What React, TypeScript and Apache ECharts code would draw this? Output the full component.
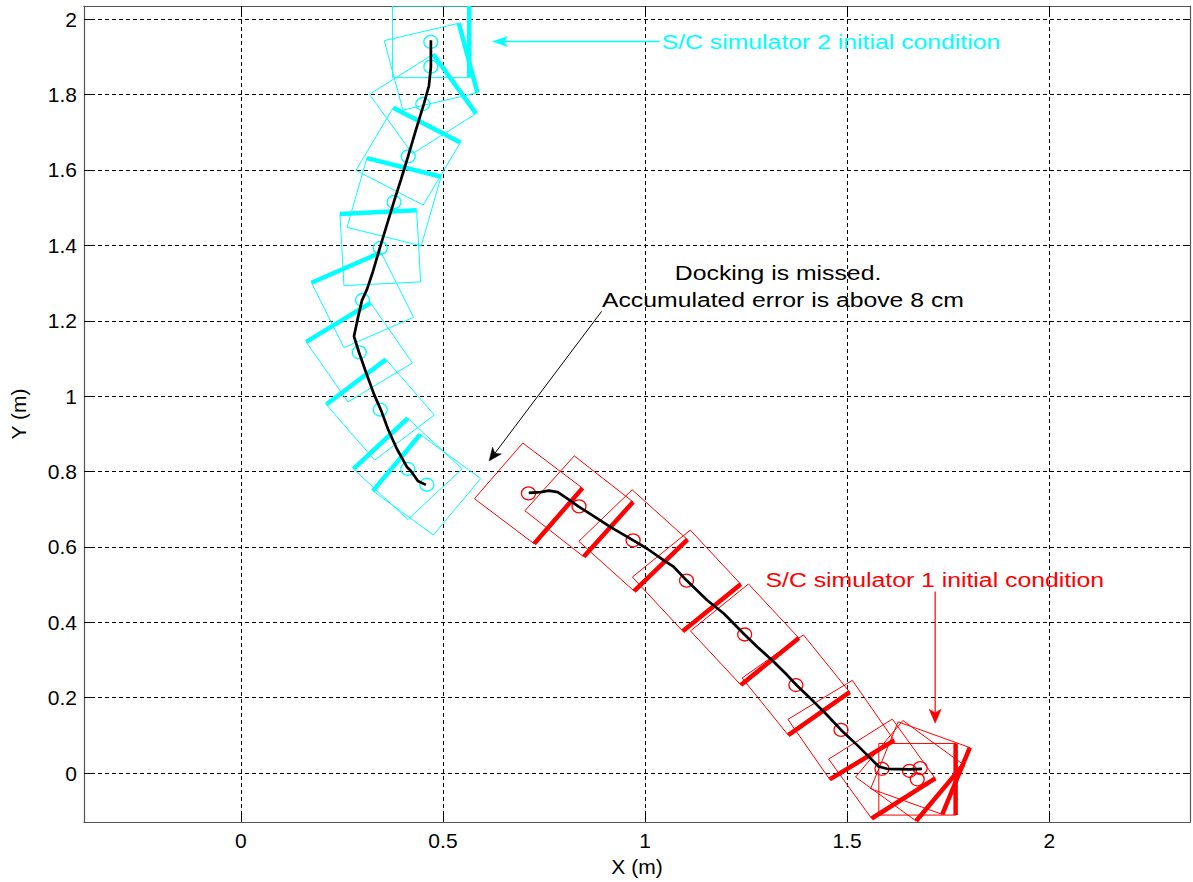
import React, { useEffect, useRef } from "react";
import * as echarts from "echarts";

// Axis ranges and tick labels
const xRange = [-0.388, 2.348];
const yRange = [-0.13, 2.035];
const xTicks = [0, 0.5, 1, 1.5, 2];
const yTicks = [0, 0.2, 0.4, 0.6, 0.8, 1, 1.2, 1.4, 1.6, 1.8, 2];

// Simulator poses: [x (m), y (m), heading of docking face (deg)]
const sim2Poses = [
  [0.470, 1.940, 0],
  [0.470, 1.874, 14],
  [0.450, 1.775, 34],
  [0.414, 1.636, 61],
  [0.379, 1.515, 75],
  [0.345, 1.393, 93],
  [0.301, 1.255, 115],
  [0.293, 1.116, 123],
  [0.345, 0.964, 129],
  [0.413, 0.807, 135],
  [0.460, 0.765, 142],
];

const sim1Poses = [
  [0.7115, 0.742, -39],
  [0.8365, 0.7077, -40],
  [0.9704, 0.6172, -44],
  [1.1025, 0.5106, -49],
  [1.2463, 0.3677, -49],
  [1.373, 0.2336, -53],
  [1.4847, 0.1146, -57],
  [1.586, 0.0114, -56],
  [1.6541, 0.0061, -38],
  [1.6806, 0.0132, -21],
  [1.6732, -0.0164, 0],
];

// Trajectories (x, y)
const sim2Path = [
  [0.4701, 1.9444], [0.4701, 1.873], [0.4652, 1.8228], [0.4528, 1.7751],
  [0.4331, 1.7063], [0.4133, 1.6349], [0.396, 1.5741], [0.3787, 1.5159],
  [0.3614, 1.455], [0.3441, 1.3942], [0.3268, 1.3307], [0.312, 1.2831],
  [0.2996, 1.254], [0.2898, 1.209], [0.2799, 1.1587], [0.2922, 1.1164],
  [0.3095, 1.0635], [0.3293, 1.0053], [0.3466, 0.963], [0.3639, 0.9127],
  [0.3861, 0.8598], [0.4108, 0.8122], [0.4207, 0.8016], [0.438, 0.7751],
  [0.4578, 0.7646],
];

const sim1Path = [
  [0.7122, 0.7434], [0.7418, 0.7452], [0.7616, 0.7495], [0.7839, 0.7452],
  [0.8086, 0.7275], [0.8357, 0.7071], [0.8728, 0.6817], [0.9148, 0.6526],
  [0.9709, 0.6172], [1.0054, 0.5952], [1.0464, 0.5643], [1.0711, 0.5468],
  [1.1025, 0.5114], [1.1537, 0.4585], [1.1947, 0.4233], [1.2458, 0.3677],
  [1.2772, 0.3352], [1.3182, 0.2955], [1.3513, 0.2601], [1.3743, 0.2336],
  [1.417, 0.1897], [1.4501, 0.1542], [1.4847, 0.1146], [1.5242, 0.0749],
  [1.5571, 0.0397], [1.5776, 0.0177], [1.5983, 0.0114], [1.6541, 0.0098],
  [1.6848, 0.0114],
];

// Annotations (data coordinates)
const notes = [
  { text: "S/C simulator 2 initial condition", at: [1.041, 1.9405], color: "#00ffff", align: "left" },
  { text: "Docking is missed.", at: [1.329, 1.327], color: "#000000", align: "center" },
  { text: "Accumulated error is above 8 cm", at: [1.341, 1.255], color: "#000000", align: "center" },
  { text: "S/C simulator 1 initial condition", at: [1.298, 0.514], color: "#ff0000", align: "left" },
];
const arrows = [
  { from: [1.0358, 1.9405], to: [0.6225, 1.9405], color: "#00ffff", len: 15, half: 5, width: 1.5 },
  { from: [0.8925, 1.2249], to: [0.6141, 0.828], color: "#000000", len: 13, half: 5.5, width: 1 },
  { from: [1.7176, 0.4815], to: [1.7176, 0.1323], color: "#ff0000", len: 14, half: 6, width: 1.2 },
];

const SIDE = 0.19;
const FONT = "Liberation Sans, Arial, Helvetica, sans-serif";

function squareRenderer(color: string) {
  return (_params: any, api: any) => {
    const cx = api.value(0);
    const cy = api.value(1);
    const th = (api.value(2) * Math.PI) / 180;
    const h = SIDE / 2;
    const ux = Math.cos(th), uy = Math.sin(th);
    const vx = -uy, vy = ux;
    const corner = (a: number, b: number) =>
      api.coord([cx + h * (a * ux + b * vx), cy + h * (a * uy + b * vy)]);
    const p1 = corner(1, 1), p2 = corner(-1, 1), p3 = corner(-1, -1), p4 = corner(1, -1);
    const c = api.coord([cx, cy]);
    return {
      type: "group",
      children: [
        { type: "polygon", shape: { points: [p1, p2, p3, p4] }, style: { fill: "none", stroke: color, lineWidth: 1 } },
        { type: "line", shape: { x1: p1[0], y1: p1[1], x2: p4[0], y2: p4[1] }, style: { stroke: color, lineWidth: 4.5 } },
        { type: "ellipse", shape: { cx: c[0], cy: c[1], rx: 7, ry: 6.5 }, style: { fill: "none", stroke: color, lineWidth: 1.3 } },
      ],
    };
  };
}

const fmt = (v: number) => String(+v.toFixed(2));

export default function App() {
  const ref = useRef<HTMLDivElement>(null);
  useEffect(() => {
    document.body.style.margin = "0";
    const chart = echarts.init(ref.current!, null, { renderer: "svg" });
    const axisLine = { show: true, onZero: false, lineStyle: { color: "#555", width: 1.2 } };
    const labelStyle = { fontSize: 21, color: "#000", fontFamily: FONT };
    chart.setOption({
      animation: false,
      backgroundColor: "#fff",
      grid: { left: 83, top: 6, right: 3, bottom: 58, containLabel: false },
      xAxis: [
        {
          type: "value", min: xRange[0], max: xRange[1], position: "bottom",
          axisLine,
          axisTick: { show: true, inside: true, length: 7, customValues: xTicks, lineStyle: { color: "#000" } },
          axisLabel: { customValues: xTicks, formatter: fmt, margin: 8, ...labelStyle },
          splitLine: { show: true, lineStyle: { color: "#000", type: [4, 3], width: 1 } },
          name: "X (m)", nameLocation: "middle", nameGap: 28,
          nameTextStyle: { ...labelStyle },
        },
        {
          type: "value", min: xRange[0], max: xRange[1], position: "top",
          axisLine,
          axisTick: { show: true, inside: true, length: 7, customValues: xTicks, lineStyle: { color: "#000" } },
          axisLabel: { show: false },
          splitLine: { show: false },
        },
      ],
      yAxis: [
        {
          type: "value", min: yRange[0], max: yRange[1], position: "left",
          axisLine,
          axisTick: { show: true, inside: true, length: 7, customValues: yTicks, lineStyle: { color: "#000" } },
          axisLabel: { customValues: yTicks, formatter: fmt, margin: 7, ...labelStyle },
          splitLine: { show: true, lineStyle: { color: "#000", type: [4, 3], width: 1 } },
          name: "Y (m)", nameLocation: "middle", nameGap: 55,
          nameTextStyle: { ...labelStyle },
        },
        {
          type: "value", min: yRange[0], max: yRange[1], position: "right",
          axisLine,
          axisTick: { show: true, inside: true, length: 7, customValues: yTicks, lineStyle: { color: "#000" } },
          axisLabel: { show: false },
          splitLine: { show: false },
        },
      ],
      series: [
        {
          type: "custom", name: "S/C simulator 2", xAxisIndex: 0, yAxisIndex: 0,
          renderItem: squareRenderer("#00ffff"), data: sim2Poses, clip: true,
          encode: { x: 0, y: 1 },
        },
        {
          type: "custom", name: "S/C simulator 1", xAxisIndex: 0, yAxisIndex: 0,
          renderItem: squareRenderer("#ff0000"), data: sim1Poses, clip: true,
          encode: { x: 0, y: 1 },
        },
        {
          type: "line", name: "path 2", data: sim2Path, showSymbol: false,
          lineStyle: { color: "#000", width: 2.7 }, clip: true,
        },
        {
          type: "line", name: "path 1", data: sim1Path, showSymbol: false,
          lineStyle: { color: "#000", width: 2.7 }, clip: true,
        },
      ],
    });

    const toPx = (p: number[]) =>
      chart.convertToPixel({ xAxisIndex: 0, yAxisIndex: 0 } as any, p) as unknown as number[];
    const elements: any[] = [];
    for (const a of arrows) {
      const s = toPx(a.from), t = toPx(a.to);
      const dx = t[0] - s[0], dy = t[1] - s[1];
      const L = Math.hypot(dx, dy);
      const ux = dx / L, uy = dy / L, nx = -uy, ny = ux;
      const back = [t[0] - a.len * ux, t[1] - a.len * uy];
      const notch = [t[0] - 0.75 * a.len * ux, t[1] - 0.75 * a.len * uy];
      elements.push({
        type: "line", silent: true,
        shape: { x1: s[0], y1: s[1], x2: notch[0], y2: notch[1] },
        style: { stroke: a.color, lineWidth: a.width },
      });
      elements.push({
        type: "polygon", silent: true,
        shape: { points: [t, [back[0] + a.half * nx, back[1] + a.half * ny], notch, [back[0] - a.half * nx, back[1] - a.half * ny]] },
        style: { fill: a.color, stroke: a.color, lineWidth: 0.5 },
      });
    }
    for (const n of notes) {
      const p = toPx(n.at);
      elements.push({
        type: "text", silent: true, x: p[0], y: p[1], scaleX: 1.18,
        style: { text: n.text, fill: n.color, fontSize: 21, fontFamily: FONT, align: n.align, verticalAlign: "middle" },
      });
    }
    chart.setOption({ graphic: elements });
    return () => chart.dispose();
  }, []);
  return <div ref={ref} style={{ width: 1193, height: 882 }} />;
}
